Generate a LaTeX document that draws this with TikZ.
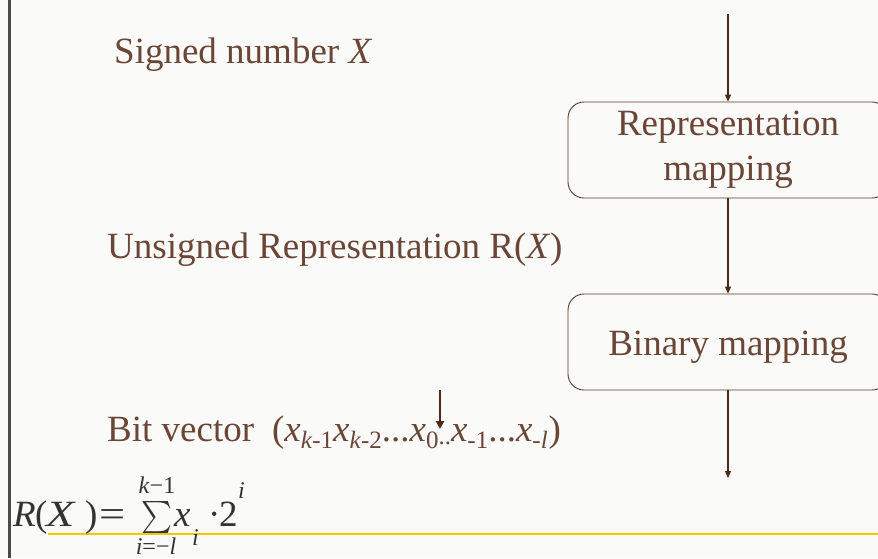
\documentclass[tikz,border=0pt]{standalone}
\usepackage{fontspec}
\usepackage{graphicx}
\setmainfont{Liberation Serif}
\usetikzlibrary{arrows.meta}
\definecolor{bg}{HTML}{FAFAF8}
\definecolor{txt}{HTML}{6B4536}
\definecolor{arr}{HTML}{4A2A14}
\definecolor{frm}{HTML}{333333}
\definecolor{gold}{HTML}{F7C800}
\definecolor{edgegray}{HTML}{4A4A4A}
\newcommand\lowsub[1]{\raisebox{-7pt}{\fontsize{25}{25}\selectfont #1}}
\begin{document}
\begin{tikzpicture}[x=1pt,y=-1pt,
  lbl/.style={font=\fontsize{37}{45}\selectfont, text=txt, inner sep=0pt},
  mapbox/.style={draw=txt!85!black, line width=0.9pt, rounded corners=16pt, minimum width=320pt,
     minimum height=96pt, inner sep=0pt, align=center, font=\fontsize{37}{45}\selectfont, text=txt},
  conn/.style={draw=arr, line width=1.2pt, -{Triangle[length=7pt,width=6pt]}},
  fm/.style={font=\fontsize{37}{40}\selectfont, text=frm, inner sep=0pt, anchor=base west},
  fs/.style={font=\fontsize{24}{26}\selectfont, text=frm, inner sep=0pt}]
\useasboundingbox (0,0) rectangle (878,558);
\clip (0,0) rectangle (878,558);
\fill[bg] (0,0) rectangle (878,558);
\draw[edgegray, line width=2.5pt] (9.5,0) -- (9.5,558);
\draw[gold, line width=2.8pt] (48,534) -- (878,534);

% texts
\node[lbl, anchor=base west] (signed) at (114,63) {Signed number \textit{X}};
\node[lbl, anchor=base west] (unsigned) at (107,258) {Unsigned Representation R(\textit{X})};
\node[lbl, anchor=base west] (bitvec) at (107,441) {Bit vector\hspace{18pt}(\textit{x}\lowsub{\textit{k}-1}\textit{x}\lowsub{\textit{k}-2}...\textit{x}\lowsub{0}\raisebox{-3pt}{\fontsize{25}{25}\selectfont..}\textit{x}\lowsub{-1}...\textit{x}\lowsub{-\textit{l}}\hspace{1pt})};

% boxes
\node[mapbox, text height=71pt, text depth=11pt] (repmap) at (728,150) {Representation\\mapping};
\node[mapbox, text height=26pt, text depth=0pt] (binmap) at (728,342) {Binary mapping};

% connectors
\coordinate (topin) at (728,14);
\coordinate (botout) at (728,478);
\draw[conn] (topin) -- (repmap.north);
\draw[conn] (repmap.south) -- (binmap.north);
\draw[conn] (binmap.south) -- (botout);
\coordinate (pt0) at (440,390);
\coordinate (pt1) at (440,429);
\draw[draw=arr, line width=2pt, -{Triangle[length=8pt,width=8pt]}] (pt0) -- (pt1);

% formula
\node[fm] (fR) at (13,526) {\textit{R}};
\node[fm] (fl) at (35,526) {(};
\node[fm] (fX) at (46,526) {\scalebox{1.25}[1]{\textit{X}}};
\node[fm] (fr) at (85,526) {)};
\node[fm] (feq) at (99,526) {\scalebox{1.25}[1]{=}};
\node[text=frm, inner sep=0pt, anchor=south west] (fsum) at (141,534) {\resizebox*{31pt}{32pt}{$\sum$}};
\node[fs, anchor=base] (fup) at (157,493) {\textit{k}−1};
\node[fs, anchor=base] (flow) at (156,554) {\textit{i}=−\textit{l}};
\node[fm] (fx) at (174,526) {\textit{x}};
\node[fs, anchor=base west] (fxi) at (192,545) {\textit{i}};
\node[fm] (fdot) at (208,526) {·};
\node[fm] (ftwo) at (219,526) {2};
\node[fs, anchor=base west] (fsup) at (238,498) {\textit{i}};
\end{tikzpicture}
\end{document}
